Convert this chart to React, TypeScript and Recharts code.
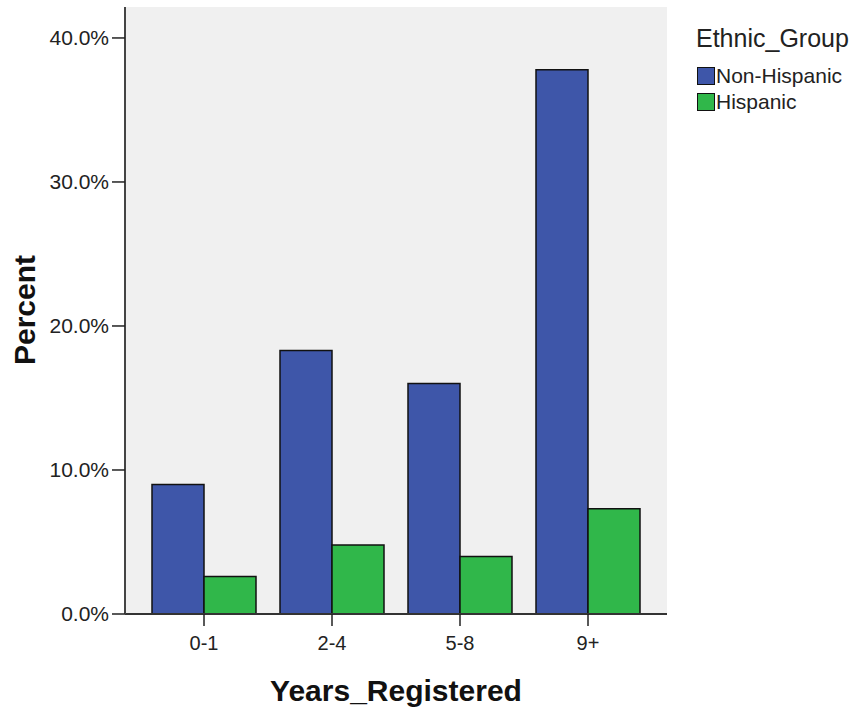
import React from 'react';
import { BarChart, Bar, XAxis, YAxis, CartesianGrid } from 'recharts';

const categories = ['0-1', '2-4', '5-8', '9+'];
const nonHispanic = [9.0, 18.3, 16.0, 37.8];
const hispanic = [2.6, 4.8, 4.0, 7.3];
const yTicks = [0, 10, 20, 30, 40];
const seriesNames = ['Non-Hispanic', 'Hispanic'];
const seriesColors = ['#3e56a9', '#30b74a'];

const data = categories.map((cat, i) => ({
  cat,
  nonHispanic: nonHispanic[i],
  hispanic: hispanic[i],
}));

const FONT = '"Liberation Sans", Arial, sans-serif';

// legend drawn next to the chart so it does not shrink the plot
const LegendBox = () => (
  <div style={{ position: 'absolute', left: 696, top: 22, fontFamily: FONT, color: '#222' }}>
    <div style={{ fontSize: 25, lineHeight: '32px', marginBottom: 9 }}>Ethnic_Group</div>
    {seriesNames.map((name, i) => (
      <div key={name} style={{ display: 'flex', alignItems: 'center', height: 26 }}>
        <span
          style={{
            display: 'inline-block',
            width: 16,
            height: 16,
            background: seriesColors[i],
            border: '1.5px solid #111',
            marginLeft: 1,
            marginRight: 1,
          }}
        />
        <span style={{ fontSize: 21 }}>{name}</span>
      </div>
    ))}
  </div>
);

const App: React.FC = () => {
  return (
    <div style={{ position: 'absolute', left: 0, top: 0, width: 855, height: 708 }}>
      <BarChart
        width={855}
        height={708}
        data={data}
        margin={{ top: 7, right: 188, bottom: 0, left: 0 }}
        barCategoryGap={12}
        barGap={0}
      >
        <CartesianGrid fill="#f0f0f0" horizontal={false} vertical={false} />
        <XAxis
          dataKey="cat"
          height={94}
          padding={{ left: 15, right: 15 }}
          tickSize={12}
          tickMargin={10}
          tick={{ fontSize: 20, fill: '#222', fontFamily: FONT }}
          tickLine={{ stroke: '#222', strokeWidth: 1.5 }}
          axisLine={{ stroke: '#333', strokeWidth: 2 }}
          label={{
            content: () => (
              <text
                x={396}
                y={690}
                textAnchor="middle"
                dominantBaseline="central"
                style={{ fontFamily: FONT, fontSize: 30, fontWeight: 'bold', fill: '#111' }}
              >
                Years_Registered
              </text>
            ),
          }}
        />
        <XAxis
          xAxisId="top"
          dataKey="cat"
          orientation="top"
          height={0}
          tick={false}
          tickLine={false}
          axisLine={{ stroke: '#444', strokeWidth: 2 }}
        />
        <YAxis
          width={125}
          domain={[0, 42.15]}
          ticks={yTicks}
          tickSize={13}
          tickMargin={3}
          tickFormatter={(v: number) => `${v.toFixed(1)}%`}
          tick={{ fontSize: 21, fill: '#222', fontFamily: FONT }}
          tickLine={{ stroke: '#222', strokeWidth: 1.5 }}
          axisLine={{ stroke: '#444', strokeWidth: 2 }}
          label={{
            content: () => (
              <text
                x={24}
                y={310}
                textAnchor="middle"
                dominantBaseline="central"
                transform="rotate(-90 24 310)"
                style={{ fontFamily: FONT, fontSize: 30, fontWeight: 'bold', fill: '#111' }}
              >
                Percent
              </text>
            ),
          }}
        />
        <YAxis
          yAxisId="right"
          orientation="right"
          width={0}
          domain={[0, 42.15]}
          tick={false}
          tickLine={false}
          axisLine={{ stroke: '#999', strokeWidth: 2 }}
        />
        <Bar
          dataKey="nonHispanic"
          name={seriesNames[0]}
          fill={seriesColors[0]}
          stroke="#111"
          strokeWidth={1.5}
          isAnimationActive={false}
        />
        <Bar
          dataKey="hispanic"
          name={seriesNames[1]}
          fill={seriesColors[1]}
          stroke="#111"
          strokeWidth={1.5}
          isAnimationActive={false}
        />
      </BarChart>
      <LegendBox />
    </div>
  );
};

export default App;
